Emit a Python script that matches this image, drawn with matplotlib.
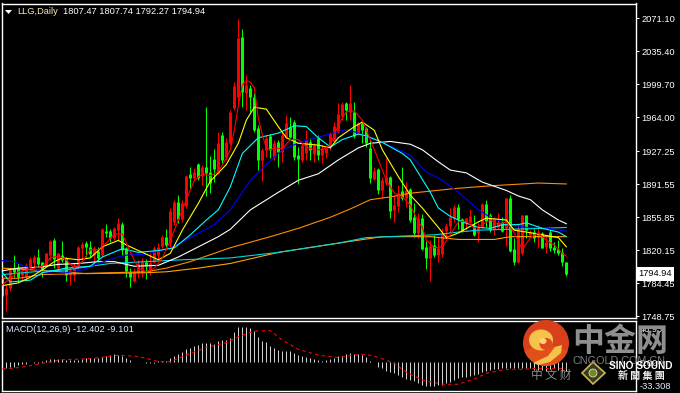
import matplotlib
matplotlib.use("Agg")
import matplotlib.pyplot as plt
from matplotlib.patches import Circle, Ellipse, Polygon, Wedge
from matplotlib.transforms import blended_transform_factory

W, H = 680, 393

highs = [1791,1783,1801,1815,1806,1801,1806,1813,1815,1822,1808,1817,1831,1834,1817,1830,1813,1801,1806,1825,
         1829,1830,1830,1825,1824,1844,1849,1843,1845,1855,1851,1824,1801,1801,1810,1812,1811,1817,1825,1828,
         1837,1843,1866,1875,1880,1875,1902,1910,1909,1915,1913,1975,1922,1930,1948,1948,1942,1972,2002,2070,
         2060,2010,1999,1990,1956,1931,1945,1946,1940,1940,1948,1967,1964,1961,1932,1936,1950,1942,1936,1945,
         1934,1932,1948,1959,1980,1981,1981,1999,1981,1959,1959,1954,1940,1910,1909,1900,1920,1901,1880,1891,
         1910,1894,1888,1871,1861,1860,1830,1831,1837,1835,1844,1850,1866,1869,1870,1855,1855,1865,1858,1850,
         1871,1875,1861,1856,1861,1856,1877,1880,1834,1850,1858,1858,1842,1843,1848,1840,1835,1842,1829,1831,
         1823,1807.74]
lows = [1768,1755,1776,1791,1786,1788,1787,1799,1799,1802,1791,1802,1810,1801,1799,1808,1787,1783,1787,1801,
        1810,1813,1813,1806,1808,1813,1835,1829,1831,1831,1815,1791,1781,1786,1790,1791,1789,1794,1806,1810,
        1823,1824,1824,1848,1850,1851,1866,1887,1896,1896,1891,1879,1882,1894,1903,1915,1918,1934,1972,1977,
        1975,1972,1970,1948,1907,1895,1921,1920,1918,1910,1916,1942,1942,1918,1892,1916,1918,1918,1916,1918,
        1915,1920,1929,1937,1947,1961,1961,1961,1942,1945,1936,1932,1893,1896,1881,1877,1891,1855,1851,1862,
        1875,1867,1851,1835,1834,1821,1800,1787,1813,1808,1813,1834,1839,1851,1843,1840,1842,1850,1836,1829,
        1844,1845,1840,1837,1843,1840,1825,1818,1804,1806,1815,1834,1834,1829,1824,1823,1817,1820,1817,1815,
        1803,1792.27]
opens = [1790,1772,1779,1801,1801,1794,1791,1802,1806,1813,1808,1804,1815,1831,1801,1815,1812,1794,1794,1803,
         1823,1828,1824,1815,1820,1815,1841,1841,1834,1842,1849,1823,1797,1787,1797,1797,1808,1799,1808,1815,
         1825,1835,1828,1851,1872,1854,1868,1903,1898,1914,1901,1910,1905,1919,1904,1945,1921,1936,1974,1986,
         2051,1990,1996,1986,1953,1918,1929,1944,1921,1937,1927,1943,1954,1959,1923,1918,1925,1937,1924,1942,
         1923,1925,1932,1938,1948,1966,1980,1970,1970,1947,1958,1953,1931,1897,1908,1885,1893,1900,1864,1868,
         1884,1877,1887,1856,1839,1855,1824,1812,1826,1815,1816,1841,1847,1855,1867,1854,1851,1851,1848,1839,
         1845,1870,1858,1843,1845,1851,1844,1877,1822,1808,1817,1858,1837,1840,1835,1839,1824,1840,1824,1822,
         1818,1807.47]
closes = [1771,1779,1799,1797,1791,1797,1804,1811,1813,1805,1797,1817,1830,1811,1817,1810,1794,1799,1804,1824,
          1827,1824,1816,1823,1812,1843,1839,1834,1844,1850,1821,1798,1791,1797,1806,1808,1803,1806,1823,1824,
          1835,1826,1863,1872,1854,1871,1901,1898,1905,1898,1910,1904,1893,1908,1936,1918,1937,1970,1998,2050,
          1991,1999,1986,1950,1918,1929,1942,1929,1936,1927,1945,1958,1943,1921,1919,1934,1940,1929,1934,1923,
          1931,1931,1947,1955,1968,1979,1972,1980,1944,1958,1950,1936,1898,1906,1885,1896,1900,1863,1869,1882,
          1877,1885,1853,1839,1855,1822,1812,1825,1815,1823,1838,1847,1856,1867,1854,1841,1855,1857,1837,1845,
          1870,1852,1842,1855,1851,1841,1877,1820,1808,1843,1858,1842,1840,1834,1840,1823,1829,1823,1821,1817,
          1808,1794.94]

red_i = [0,4,8,10,12,14,16,18,20,22,24,26,28,30,32,34,36,38,40,42,44,46,48,50,52,54,56,57,58,59,60,61,62,63,64,65,
         66,67,68,70,72,74,76,78,80,82,84,86,88,90,92,94,96,98,100,102,104,105,106,108,110,112,114,116,118,120,122,
         124,126,128,130,132,134,136,138,140,141]
red_v = [1783,1797,1801,1803,1812,1814,1810,1801,1808,1821,1821,1828,1838,1838,1818,1801,1797,1801,1812,1831,1853,
         1875,1896,1903,1901,1905,1920,1929,1950,1977,1999,2004,2002,1996,1963,1945,1931,1929,1931,1930,1940,1940,
         1932,1929,1929,1934,1956,1970,1971,1961,1940,1918,1896,1882,1878,1869,1851,1845,1831,1823,1824,1837,1851,
         1852,1844,1848,1853,1848,1851,1839,1821,1834,1839,1831,1826,1817,1814]
yellow_i = [0,4,7,10,13,15,19,22,25,29,31,35,39,42,45,49,52,56,59,61,63,66,69,71,74,79,82,84,88,90,93,95,99,102,105,
            109,111,114,119,121,126,128,131,135,139,141]
yellow_v = [1782,1785,1791,1799,1808,1812,1810,1812,1824,1831,1826,1818,1810,1817,1842,1871,1895,1913,1936,1961,1975,
            1973,1954,1942,1936,1934,1931,1942,1954,1959,1950,1929,1900,1880,1866,1845,1834,1839,1851,1855,1853,1842,
            1840,1837,1834,1824]
cyan_i = [0,2,7,10,16,22,25,30,34,39,43,47,51,54,57,60,64,69,73,76,79,82,85,89,91,95,100,102,104,107,109,112,115,119,
          122,125,129,131,135,139,141]
cyan_v = [1796,1786,1788,1796,1801,1803,1813,1822,1818,1820,1823,1837,1853,1864,1889,1925,1942,1947,1955,1954,1942,
          1932,1940,1946,1944,1937,1925,1918,1904,1883,1866,1857,1851,1845,1844,1848,1848,1850,1844,1840,1835]
blue_i = [0,3,5,10,13,16,20,24,28,31,36,42,47,53,57,62,65,70,75,81,86,89,95,102,106,110,114,119,122,127,131,135,141]
blue_v = [1809,1808,1804,1797,1795,1796,1799,1806,1812,1815,1816,1823,1834,1848,1864,1896,1909,1929,1938,1945,1951,
          1947,1937,1923,1905,1896,1883,1864,1856,1848,1845,1845,1841]
white_i = [0,4,9,14,19,24,28,33,39,44,49,54,57,62,69,74,79,84,89,92,97,102,105,109,112,116,120,126,129,132,135,139,141]
white_v = [1798,1801,1802,1805,1806,1808,1808,1803,1804,1813,1824,1835,1843,1864,1883,1896,1903,1918,1931,1936,1938,
           1935,1929,1916,1907,1904,1894,1885,1879,1875,1864,1853,1849]
orange_i = [0,4,10,19,27,36,41,47,53,57,67,74,82,87,92,97,102,113,122,134,141]
orange_v = [1790,1790,1794,1795,1796,1797,1801,1808,1817,1823,1835,1844,1856,1865,1875,1878,1882,1887,1890,1893,1892]
long_cyan_i = [0,8,16,22,27,36,45,57,69,84,91,102,108,114,119,127,135,141]
long_cyan_v = [1794,1797,1799,1803,1806,1808,1810,1812,1818,1828,1834,1836,1837,1840,1842,1843,1844,1845]
amber_i = [0,8,21,36,41,49,57,69,84,95,107,114,123,127,141]
amber_v = [1801,1799,1795,1796,1797,1801,1806,1818,1828,1835,1835,1832,1832,1835,1835]

macd_bars = [-9.8,-8.9,-6.6,-6.6,-4.2,-3.3,-3.3,-0.5,-1.9,-0.9,1.4,2.7,4.1,3.7,4.6,3.7,2.7,2.3,2.3,2.7,
             3.7,5.0,5.5,5.0,5.9,6.9,8.2,9.6,11.4,10.5,8.7,5.9,3.2,0.5,0.1,0.1,-0.9,-0.9,-0.9,1.4,
             1.0,0.9,5.9,8.7,11.0,14.2,17.8,20.1,21.9,24.2,26.5,27.0,26.5,25.6,30.2,30.6,31.1,34.3,41.6,49.4,
             49.4,49.4,47.5,43.0,34.7,30.2,28.8,21.9,20.1,16.5,15.5,15.5,15.5,13.3,9.6,8.2,7.3,5.9,4.6,2.3,
             1.8,2.3,4.1,5.9,7.8,8.0,10.8,12.2,10.8,10.8,9.9,7.5,1.4,0.3,-6.6,-8.9,-12.7,-14.5,-15.9,-18.3,
             -20.6,-23.9,-25.3,-26.7,-30.0,-32.4,-33.3,-33.3,-33.3,-33.0,-32.5,-30.0,-27.7,-25.3,-23.0,-21.6,-20.6,-19.7,-18.3,-17.4,
             -13.6,-12.7,-11.3,-10.3,-10.3,-8.9,-8.9,-8.9,-8.9,-8.9,-8.9,-8.0,-8.9,-11.3,-11.3,-11.3,-12.7,-10.3,-8.9,-11.3,
             -14.5,-12.402]
signal_i = [0,4,8,10,15,20,24,29,33,36,39,42,46,51,56,59,63,67,70,74,79,84,88,91,94,98,101,105,110,114,118,121,126,130,134,140,141]
signal_v = [-9.8,-8.0,-4.2,-1.9,3.3,4.2,6.1,9.4,8.4,5.2,0.5,0.5,9.9,20.6,27.2,35.6,43.6,44.1,31.0,17.8,9.8,6.1,9.8,10.8,
            6.6,-1.9,-14.5,-25.3,-31.4,-31.4,-23.9,-15.9,-10.3,-10.3,-8.9,-9.1,-9.101]

price_ticks = [2071.10,2035.40,1999.70,1964.00,1927.25,1891.55,1855.85,1820.15,1784.45,1748.75]
price_labels = ["2071.10","2035.40","1999.70","1964.00","1927.25","1891.55","1855.85","1820.15","1784.45","1748.75"]
macd_ticks = [46.93,0.0,-33.308]
macd_labels = ["46.93","0.00","-33.308"]
header_name = "LLG,Daily"
header_values = "1807.47 1807.74 1792.27 1794.94"
macd_title = "MACD(12,26,9) -12.402 -9.101"

plt.rcParams['font.family'] = ['Liberation Sans', 'DejaVu Sans']
FS = 6.7
PX = 0.72
THIN = 0.8

fig = plt.figure(figsize=(W / 100, H / 100), dpi=100, facecolor='black')


def axes_px(x0, y0, x1, y1):
    return fig.add_axes([x0 / W, 1 - y1 / H, (x1 - x0) / W, (y1 - y0) / H], facecolor='black')


LEFT, RIGHT = 1.5, 635.5
XLIM = ((LEFT - 2.33) / 4, (RIGHT - 2.33) / 4)

ax = axes_px(LEFT, 3.5, RIGHT, 318)
ax.set_xlim(*XLIM)
ax.set_ylim(2091 - 1.0817 * 318, 2091 - 1.0817 * 3.5)
ax.set_xticks([])
ax.set_yticks(price_ticks, price_labels)
ax.yaxis.tick_right()
ax.tick_params(axis='y', colors='white', labelsize=FS, length=2.5, width=PX, pad=1.5)

BULL, BEAR = '#ff0000', '#00ff00'
colors = [BULL if c >= o else BEAR for o, c in zip(opens, closes)]
positions = list(range(len(opens)))
ax.vlines(positions, lows, highs, colors=colors, lw=PX, capstyle='butt', zorder=2)
ax.vlines(positions, opens, closes, colors=colors, lw=3 * PX, capstyle='butt', zorder=2)

series = [(amber_i, amber_v, '#ffa500'), (orange_i, orange_v, '#ff8c00'), (long_cyan_i, long_cyan_v, '#00d8e0'),
          (white_i, white_v, '#ffffff'), (blue_i, blue_v, '#0000ff'), (cyan_i, cyan_v, '#00ffff'),
          (yellow_i, yellow_v, '#ffff00'), (red_i, red_v, '#ff0000')]
for xs, ys, col in series:
    ax.plot(xs, ys, color=col, lw=THIN, zorder=3, solid_joinstyle='miter')

ax2 = axes_px(LEFT, 320.5, RIGHT, 391)
ax2.set_xlim(*XLIM)
ax2.set_ylim(-(391 - 362) * 1.408, (362 - 320.5) * 1.408)
ax2.set_xticks([])
ax2.set_yticks(macd_ticks, macd_labels)
ax2.yaxis.tick_right()
ax2.tick_params(axis='y', colors='#dfefff', labelsize=FS, length=0, pad=3)
ax2.vlines(range(len(macd_bars)), 0, macd_bars, colors='#d0d0d0', lw=PX, capstyle='butt', zorder=2)
ax2.plot(signal_i, signal_v, color='#ff0000', lw=THIN, ls=(0, (3, 3)), zorder=3)

for a in (ax, ax2):
    for s in a.spines.values():
        s.set_color('white')
        s.set_linewidth(1.0)

trans = blended_transform_factory(ax.transAxes, ax.transData)
ax.text(1 + 3 / 634, closes[-1], f"{closes[-1]:.2f}", transform=trans, color='black', fontsize=FS, va='center', ha='left',
        bbox=dict(boxstyle='square,pad=0.25', fc='white', ec='none'), zorder=5, clip_on=False)

# overlay in pixel space: header texts and watermark
ov = fig.add_axes([0, 0, 1, 1], facecolor='none', zorder=10)
ov.set_xlim(0, W)
ov.set_ylim(H, 0)
ov.axis('off')
ov.add_patch(Polygon([(5, 10), (12, 10), (8.5, 14)], color='white', lw=0))
ov.text(17, 12, header_name, color='#ffe9b8', fontsize=FS, va='center')
ov.text(63, 12, header_values, color='white', fontsize=FS, va='center')
ov.text(6, 329.5, macd_title, color='#dcefff', fontsize=FS, va='center')

# logo
ov.add_patch(Circle((546, 343), 23, color='#d8401c', lw=0))
ov.add_patch(Wedge((546, 343), 23, 20, 160, color='#e2501a', lw=0))
ov.add_patch(Ellipse((541, 340), 24, 21, color='#f7c24c', lw=0))
ov.add_patch(Polygon([(533, 363), (548, 356), (555, 347), (562, 345), (561, 353), (550, 362), (538, 365)], color='#f7c24c', lw=0))
ov.add_patch(Ellipse((546, 344), 13, 12, color='#dd4a1e', lw=0))
ov.add_patch(Ellipse((543, 341), 7, 6, color='#fbd46a', lw=0))

cjk = ['Noto Sans CJK SC', 'DejaVu Sans']
ov.text(620, 342, "中金网", family=cjk, color='#8f8f8f', fontsize=23, fontweight='bold', ha='center', va='center')
ov.text(619, 361.5, "CNGOLD.COM.CN", color='#7d7d7d', fontsize=7.8, ha='center', va='center')
ov.text(551, 375, "中 文 财", family=cjk, color='#8a8a8a', fontsize=8.5, ha='center', va='center')
ov.add_patch(Polygon([(593, 362), (605, 373), (593, 384), (582, 373)], fc='#3a3a20', ec='#c9b458', lw=1.2))
ov.add_patch(Circle((593, 373), 4, fc='#6f8a2a', ec='#e8e0a0', lw=0.6))
ov.text(641, 366, "SINO SOUND", color='white', fontsize=7.3, fontweight='bold', ha='center', va='center')
ov.text(641, 376, "新 聞 集 團", family=cjk, color='#eeeeee', fontsize=7.2, fontweight='bold', ha='center', va='center')

fig.savefig('out.png', dpi=100, facecolor='black')
